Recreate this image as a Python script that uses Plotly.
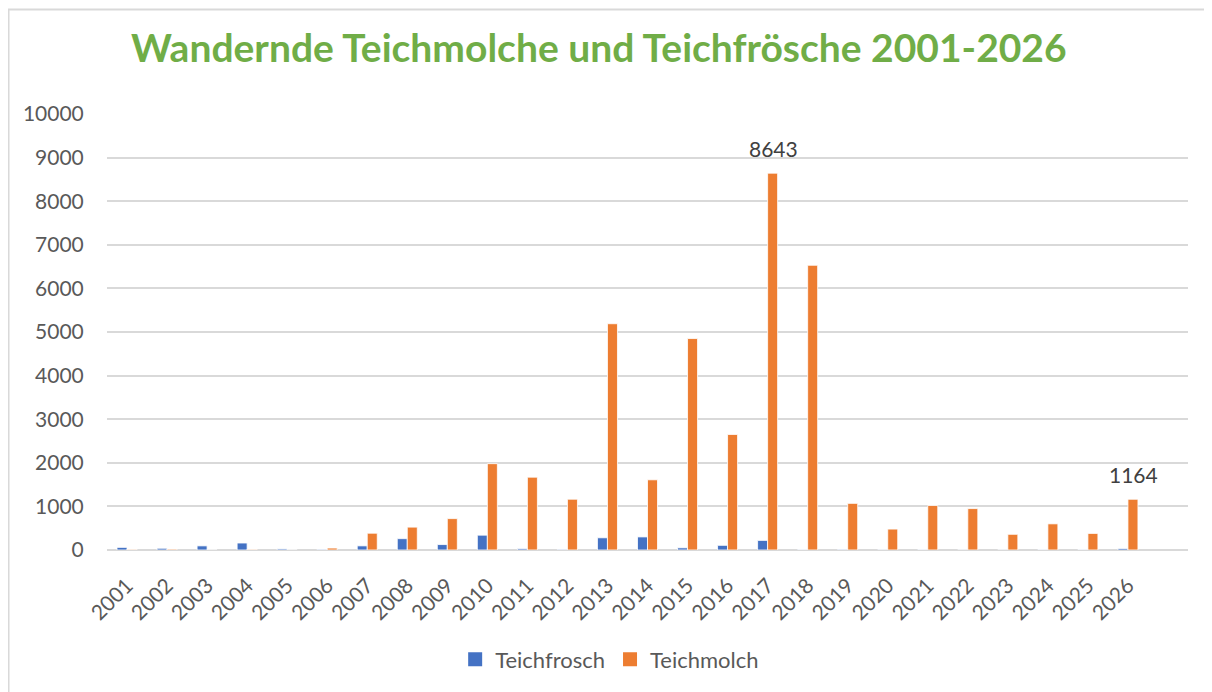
import plotly.graph_objects as go

years = list(range(2001, 2027))
teichfrosch = [60, 40, 95, 160, 25, 15, 95, 260, 125, 340, 30, 15, 280, 300,
               50, 107, 220, 10, 15, 5, 10, 3, 3, 10, 10, 35]
teichmolch = [15, 20, 0, 15, 0, 45, 385, 525, 720, 1980, 1670, 1165, 5190, 1610,
              4850, 2650, 8643, 6530, 1070, 480, 1020, 950, 360, 600, 380, 1164]
labelled_years = [2017, 2026]
y_ticks = list(range(0, 10001, 1000))

title_text = "Wandernde Teichmolche und Teichfrösche 2001-2026"
blue = "#4472C4"
orange = "#ED7D31"
grey_text = "#595959"
grid = "#D9D9D9"
font_family = "Lato, Open Sans, sans-serif"

fig = go.Figure()
for name, vals, col in [("Teichfrosch", teichfrosch, blue), ("Teichmolch", teichmolch, orange)]:
    fig.add_trace(go.Bar(x=years, y=vals, name=name, showlegend=False, legendgroup=name,
                         marker=dict(color=col, line=dict(color="white", width=0.8))))
# legend entries with larger square swatches
for name, col in [("Teichfrosch", blue), ("Teichmolch", orange)]:
    fig.add_trace(go.Scatter(x=[None], y=[None], mode="markers", name=name, legendgroup=name,
                             marker=dict(symbol="square", size=14, color=col)))

for yr in labelled_years:
    v = teichmolch[years.index(yr)]
    fig.add_annotation(x=yr, y=v, xref="x", yref="y", text=str(v), showarrow=False,
                       xshift=6, yshift=10, yanchor="bottom",
                       font=dict(family=font_family, size=21, color="#404040"))

fig.add_annotation(x=0.455, y=1.153, xref="paper", yref="paper", text="<b>" + title_text + "</b>",
                   showarrow=False, xanchor="center", yanchor="middle",
                   font=dict(family=font_family, size=39, color="#70AD47"))

# outer chart border
fig.add_shape(type="rect", xref="paper", yref="paper", x0=-0.0911, x1=1.2, y0=-0.5, y1=1.2397,
              line=dict(color="#D9D9D9", width=2), fillcolor="rgba(0,0,0,0)", layer="below")

fig.update_layout(
    width=1204, height=684,
    margin=dict(l=99, r=24, t=106, b=140),
    paper_bgcolor="white", plot_bgcolor="white",
    barmode="group", bargap=0.5, bargroupgap=0.0,
    showlegend=True,
    legend=dict(orientation="h", x=0.465, xanchor="center", y=-0.251, yanchor="middle",
                font=dict(family=font_family, size=22, color=grey_text),
                itemwidth=30, traceorder="normal"),
    font=dict(family=font_family, color=grey_text),
)
fig.update_xaxes(range=[2000.5, 2027.5], tickmode="array", tickvals=years,
                 ticktext=[str(y) for y in years], tickangle=-45,
                 tickfont=dict(family=font_family, size=21, color=grey_text),
                 showgrid=False, zeroline=False, showline=False,
                 ticks="outside", ticklen=14, tickcolor="rgba(0,0,0,0)")
fig.update_yaxes(range=[0, 10000], tickmode="array", tickvals=y_ticks,
                 ticktext=[str(v) for v in y_ticks],
                 tickfont=dict(family=font_family, size=21, color=grey_text),
                 showgrid=True, gridcolor=grid, gridwidth=1.5, zeroline=True,
                 zerolinecolor=grid, zerolinewidth=1.5, showline=False,
                 ticks="outside", ticklen=18, tickcolor="rgba(0,0,0,0)")

fig.write_html("out.html")
